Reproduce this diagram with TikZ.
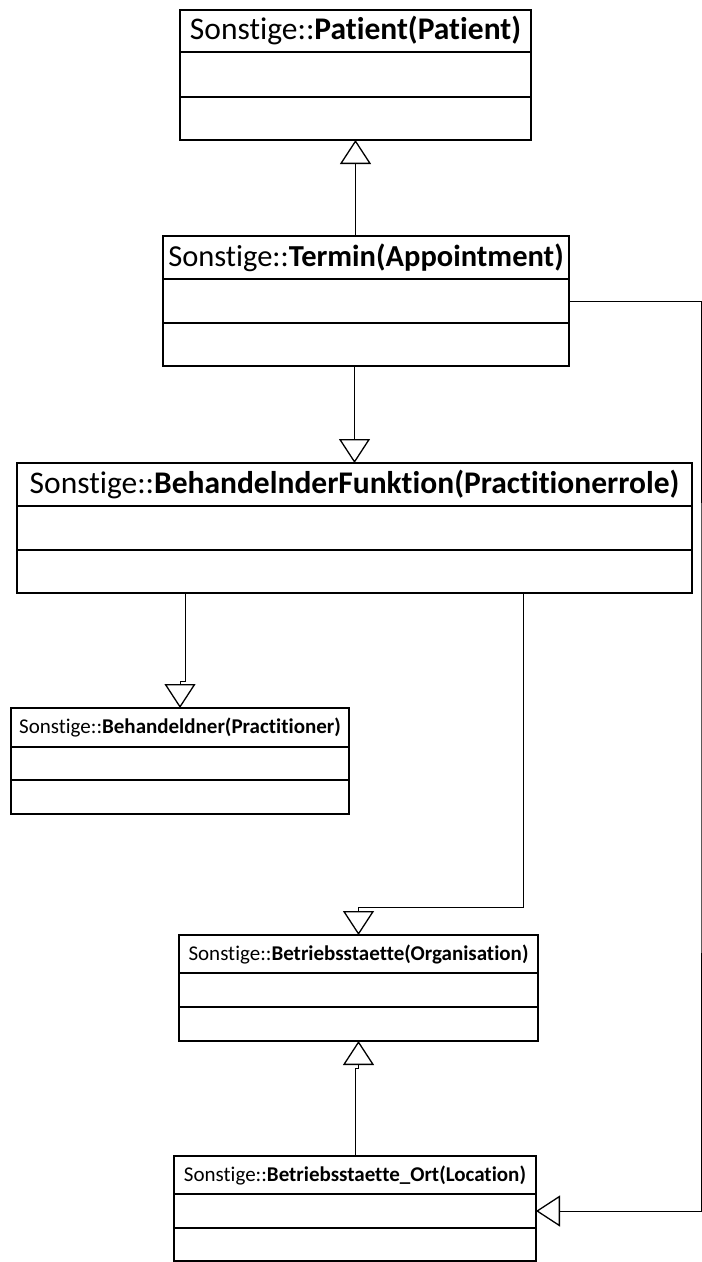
\documentclass[tikz,border=0pt]{standalone}
\usepackage{fontspec}
\setmainfont{Carlito}[Ligatures=NoCommon]
\usetikzlibrary{positioning,calc,arrows.meta}

\tikzset{
  umlbox/.style={draw,line width=1.5pt,inner sep=0pt,outer sep=0pt},
  bigclass/.style={umlbox,font=\fontsize{31.5}{36}\selectfont},
  smallclass/.style={umlbox,font=\fontsize{21}{25}\selectfont},
  gen/.style={draw=black,line width=0.9pt,
    -{Triangle[open,length=24pt,width=31pt,line width=1.3pt]}}
}

\begin{document}
\begin{tikzpicture}[x=1pt,y=-1pt]

      \useasboundingbox (0,0) rectangle (702,1262);

      % classes
      \node[bigclass,minimum width=351pt,minimum height=42pt,anchor=north west] (patient) at (180,10) {Sonstige::\textbf{Patient(Patient)}};
      \node[umlbox,minimum width=351pt,minimum height=45pt,below=0pt of patient] (patient-a) {};
      \node[umlbox,minimum width=351pt,minimum height=43pt,below=0pt of patient-a] (patient-o) {};

      \node[bigclass,font=\fontsize{30.5}{35}\selectfont,minimum width=406pt,minimum height=43pt,anchor=north west] (termin) at (163,236) {Sonstige::\textbf{Termin(Appointment)}};
      \node[umlbox,minimum width=406pt,minimum height=44pt,below=0pt of termin] (termin-a) {};
      \node[umlbox,minimum width=406pt,minimum height=43pt,below=0pt of termin-a] (termin-o) {};

      \node[bigclass,minimum width=675pt,minimum height=43pt,anchor=north west] (bf) at (17,463) {Sonstige::\textbf{BehandelnderFunktion(Practitionerrole)}};
      \node[umlbox,minimum width=675pt,minimum height=44pt,below=0pt of bf] (bf-a) {};
      \node[umlbox,minimum width=675pt,minimum height=43pt,below=0pt of bf-a] (bf-o) {};

      \node[smallclass,minimum width=338pt,minimum height=39pt,anchor=north west] (beh) at (11,708) {Sonstige::\textbf{Behandeldner(Practitioner)}};
      \node[umlbox,minimum width=338pt,minimum height=33pt,below=0pt of beh] (beh-a) {};
      \node[umlbox,minimum width=338pt,minimum height=34pt,below=0pt of beh-a] (beh-o) {};

      \node[smallclass,minimum width=359pt,minimum height=38pt,anchor=north west] (org) at (179,935) {Sonstige::\textbf{Betriebsstaette(Organisation)}};
      \node[umlbox,minimum width=359pt,minimum height=34pt,below=0pt of org] (org-a) {};
      \node[umlbox,minimum width=359pt,minimum height=34pt,below=0pt of org-a] (org-o) {};

      \node[smallclass,minimum width=362pt,minimum height=38pt,anchor=north west] (ort) at (174,1156) {Sonstige::\textbf{Betriebsstaette\_Ort(Location)}};
      \node[umlbox,minimum width=362pt,minimum height=34pt,below=0pt of ort] (ort-a) {};
      \node[umlbox,minimum width=362pt,minimum height=33pt,below=0pt of ort-a] (ort-o) {};

      % generalisations
      \coordinate (bfl) at ($(bf-o.south west)!0.25!(bf-o.south east)$);
      \coordinate (bfr) at ($(bf-o.south west)!0.75!(bf-o.south east)$);
      \coordinate (rt) at (701,700);

      \draw[gen] (patient-o.south |- termin.north) -- (patient-o.south);
      \draw[gen] (bf.north |- termin-o.south) -- (bf.north);
      \draw[gen] (bfl) -- ++(0,88) -| (beh.north);
      \draw[gen] (bfr) |- ($(org.north)+(0,-28)$) -- (org.north);
      \draw[gen] (ort.north) -- ++(0,-88) -| (org-o.south);
      \draw[gen] (termin-a.east) -| (rt) |- (ort-a.east);

    \end{tikzpicture}
\end{document}
